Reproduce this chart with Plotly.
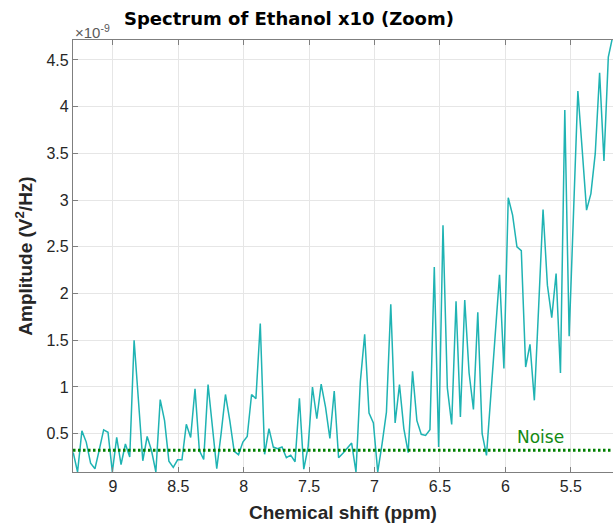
import numpy as np
import plotly.graph_objects as go

# Amplitude values (units of 1e-9 V^2/Hz), sampled on a uniform ppm grid from high to low shift
amplitude = [
    0.30, 0.09, 0.53, 0.41, 0.185, 0.125, 0.33, 0.54, 0.515, 0.09,
    0.46, 0.17, 0.39, 0.25, 1.50, 0.85, 0.21, 0.47, 0.32, 0.09,
    0.865, 0.64, 0.206, 0.14, 0.22, 0.22, 0.60, 0.46, 0.98, 0.32,
    0.225, 1.025, 0.535, 0.125, 0.50, 0.92, 0.64, 0.31, 0.275, 0.41,
    0.47, 0.92, 0.875, 1.68, 0.28, 0.555, 0.357, 0.34, 0.357, 0.243,
    0.27, 0.20, 0.88, 0.12, 0.36, 1.00, 0.66, 1.03, 0.785, 0.45,
    0.957, 0.243, 0.29, 0.34, 0.40, 0.09, 1.055, 1.564, 0.72, 0.614,
    0.09, 0.39, 0.73, 1.886, 0.614, 1.025, 0.555, 0.297, 1.168, 0.64,
    0.493, 0.482, 0.543, 2.285, 0.357, 2.732, 0.99, 0.60, 1.918, 0.68,
    1.93, 1.15, 0.76, 1.80, 0.50, 0.268, 0.893, 1.59, 2.20, 1.197,
    3.025, 2.84, 2.50, 2.46, 1.214, 1.457, 0.857, 1.87, 2.90, 2.09,
    1.743, 2.214, 1.15, 3.964, 1.543, 2.857, 4.168, 3.536, 2.893, 3.07,
    3.50, 4.364, 3.42, 4.53, 4.75,
]
ppm_start = 9.3035
ppm_end = 5.1796
ppm = np.linspace(ppm_start, ppm_end, len(amplitude))

noise_level = 0.322
x_ticks = [9, 8.5, 8, 7.5, 7, 6.5, 6, 5.5]
x_tick_labels = ["9", "8.5", "8", "7.5", "7", "6.5", "6", "5.5"]
y_ticks = [0.5, 1, 1.5, 2, 2.5, 3, 3.5, 4, 4.5]
y_tick_labels = ["0.5", "1", "1.5", "2", "2.5", "3", "3.5", "4", "4.5"]

x_range = [9.305, 5.177]
y_range = [0.09, 4.714]

FONT = "Liberation Sans, Arial, Helvetica, sans-serif"
TITLE_FONT = "DejaVu Sans, Verdana, sans-serif"
TXT = "#262626"
AX = "#7f7f7f"

fig = go.Figure()
fig.add_trace(go.Scatter(
    x=ppm, y=amplitude, mode="lines",
    line=dict(color="#1fb3b3", width=1.5),
    showlegend=False, hoverinfo="skip",
))
fig.add_trace(go.Scatter(
    x=x_range, y=[noise_level, noise_level], mode="lines",
    line=dict(color="#008000", width=3, dash="2.5px,2.5px"),
    showlegend=False, hoverinfo="skip",
))

fig.update_layout(
    width=613, height=526,
    margin=dict(l=73, r=0, t=40, b=54),
    paper_bgcolor="white", plot_bgcolor="white",
    font=dict(family=FONT, color=TXT, size=16),
    xaxis=dict(
        range=x_range, tickvals=x_ticks, ticktext=x_tick_labels,
        showgrid=True, gridcolor="#e6e6e6", gridwidth=1,
        showline=True, linecolor=AX, linewidth=1.3, mirror="ticks",
        ticks="inside", ticklen=5, tickcolor=AX, tickwidth=1,
        tickfont=dict(size=16, color=TXT), zeroline=False,
        title=dict(text="<b>Chemical shift (ppm)</b>", font=dict(size=19, color=TXT), standoff=11),
    ),
    yaxis=dict(
        range=y_range, tickvals=y_ticks, ticktext=y_tick_labels,
        showgrid=True, gridcolor="#e6e6e6", gridwidth=1,
        showline=True, linecolor=AX, linewidth=1.3, mirror=False,
        ticks="inside", ticklen=5, tickcolor=AX, tickwidth=1,
        tickfont=dict(size=16, color=TXT), zeroline=False,
        title=dict(text="<b>Amplitude (V<sup>2</sup>/Hz)</b>", font=dict(size=19, color=TXT), standoff=8),
    ),
    annotations=[
        dict(text="<b>Spectrum of Ethanol x10 (Zoom)</b>", xref="paper", yref="paper",
             x=0.40, y=1.049, xanchor="center", yanchor="middle", showarrow=False,
             font=dict(size=18, color="black", family=TITLE_FONT)),
        dict(text="×10<sup>-9</sup>", xref="paper", yref="paper",
             x=0.0, y=1.02, xanchor="left", yanchor="middle", showarrow=False,
             font=dict(size=15, color="#5a5a5a")),
        dict(text="Noise", xref="x", yref="y", x=5.728, y=0.46,
             xanchor="center", yanchor="middle", showarrow=False,
             font=dict(size=17, color="#138a13", family=TITLE_FONT)),
    ],
)

fig.write_html("out.html", config={"displayModeBar": False},
               post_script="document.body.style.margin='0';document.body.style.padding='0';")
